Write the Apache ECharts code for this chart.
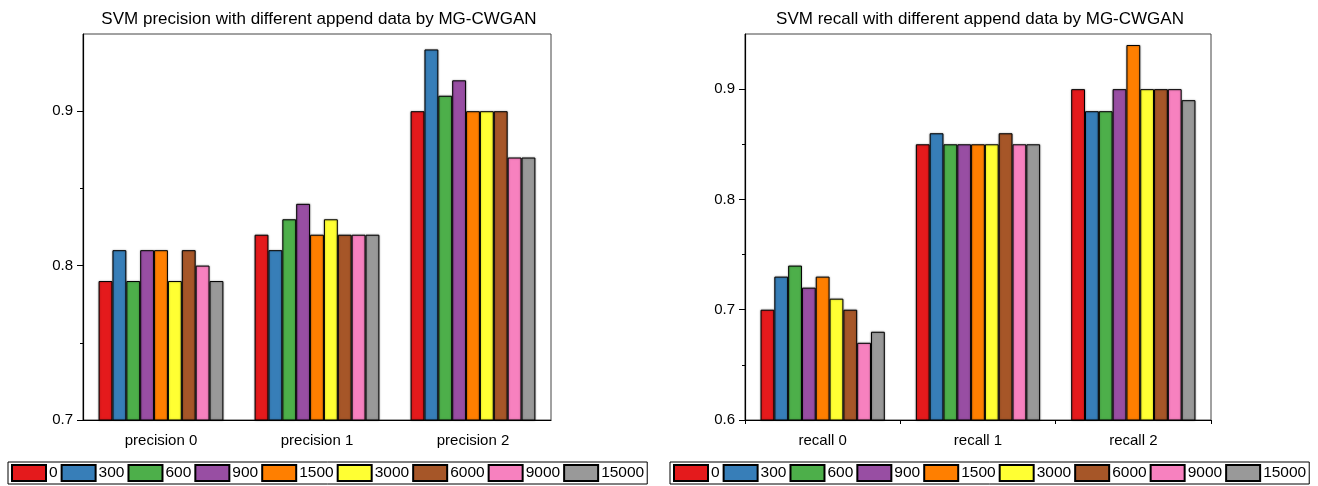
<!DOCTYPE html>
<html>
<head>
<meta charset="utf-8">
<script src="https://cdn.jsdelivr.net/npm/echarts@6/dist/echarts.min.js"></script>
<style>
html,body{margin:0;padding:0;background:#fff;}
#c{width:1318px;height:486px;}
</style>
</head>
<body>
<div id="c"></div>
<script>
const seriesNames = ['0','300','600','900','1500','3000','6000','9000','15000'];
const colors = ['#E41A1C','#377EB8','#4DAF4A','#984EA3','#FF7F00','#FFFF33','#A65628','#F781BF','#999999'];
const precisionCategories = ['precision 0','precision 1','precision 2'];
const recallCategories = ['recall 0','recall 1','recall 2'];
// values per append-size series: [cat0, cat1, cat2]
const precision0 = [0.79, 0.82, 0.90];
const precision300 = [0.81, 0.81, 0.94];
const precision600 = [0.79, 0.83, 0.91];
const precision900 = [0.81, 0.84, 0.92];
const precision1500 = [0.81, 0.82, 0.90];
const precision3000 = [0.79, 0.83, 0.90];
const precision6000 = [0.81, 0.82, 0.90];
const precision9000 = [0.80, 0.82, 0.87];
const precision15000 = [0.79, 0.82, 0.87];
const recall0 = [0.70, 0.85, 0.90];
const recall300 = [0.73, 0.86, 0.88];
const recall600 = [0.74, 0.85, 0.88];
const recall900 = [0.72, 0.85, 0.90];
const recall1500 = [0.73, 0.85, 0.94];
const recall3000 = [0.71, 0.85, 0.90];
const recall6000 = [0.70, 0.86, 0.90];
const recall9000 = [0.67, 0.85, 0.90];
const recall15000 = [0.68, 0.85, 0.89];
const precisionTicks = [0.7, 0.8, 0.9];
const precisionMinor = [0.75, 0.85];
const recallTicks = [0.6, 0.7, 0.8, 0.9];
const recallMinor = [0.65, 0.75, 0.85];

const precisionData = [precision0,precision300,precision600,precision900,precision1500,precision3000,precision6000,precision9000,precision15000];
const recallData = [recall0,recall300,recall600,recall900,recall1500,recall3000,recall6000,recall9000,recall15000];

const FONT = 'Liberation Sans, Arial, sans-serif';

function barSeries(data, xi, yi){
  return seriesNames.map((n,i)=>({
    name:n, type:'bar', xAxisIndex:xi, yAxisIndex:yi,
    data:data[i], barGap:'0%', barCategoryGap:'20%',
    itemStyle:{color:colors[i], borderColor:'#000', borderWidth:1,
      shadowColor:'rgba(0,0,0,0.35)', shadowBlur:2},
    emphasis:{disabled:true}, animation:false
  }));
}

function legend(left){
  return {
    data:seriesNames, left:left, top:462, orient:'horizontal',
    itemWidth:34, itemHeight:16, itemGap:3,
    borderColor:'#000', borderWidth:1, padding:[2,3,2,3],
    textStyle:{fontFamily:FONT, fontSize:15.5, color:'#000', padding:[0,0,0,-2]},
    icon:'rect', selectedMode:false
  };
}

function mainY(grid, min, ticks){
  return {type:'value', gridIndex:grid, min:min, max:0.95,
    axisLine:{show:true, lineStyle:{color:'#000', width:1.2}},
    axisTick:{show:true, length:6, customValues:ticks, lineStyle:{color:'#000'}},
    axisLabel:{customValues:ticks, formatter:v=>v.toFixed(1), margin:10,
      fontFamily:FONT, fontSize:15, color:'#000'},
    splitLine:{show:false}};
}
function minorY(grid, min, ticks){
  return {type:'value', gridIndex:grid, min:min, max:0.95, position:'left',
    axisLine:{show:false},
    axisTick:{show:true, length:3, customValues:ticks, lineStyle:{color:'#000'}},
    axisLabel:{show:false}, splitLine:{show:false}};
}

const option = {
  backgroundColor:'#fff',
  animation:false,
  title:[
    {text:'SVM precision with different append data by MG-CWGAN', left:314, top:6, textAlign:'center',
      textStyle:{fontFamily:FONT, fontSize:17, fontWeight:'normal', color:'#000'}},
    {text:'SVM recall with different append data by MG-CWGAN', left:975, top:6, textAlign:'center',
      textStyle:{fontFamily:FONT, fontSize:17, fontWeight:'normal', color:'#000'}}
  ],
  legend:[legend(8), legend(670)],
  grid:[
    {left:83, top:34, width:468, height:386, show:true, borderColor:'#444', borderWidth:1},
    {left:745, top:34, width:466, height:386, show:true, borderColor:'#444', borderWidth:1}
  ],
  xAxis:[
    {type:'category', gridIndex:0, data:precisionCategories,
      axisLine:{lineStyle:{color:'#000', width:1.2}},
      axisTick:{alignWithLabel:true, length:6, lineStyle:{color:'#000'}},
      axisLabel:{margin:13, fontFamily:FONT, fontSize:15, color:'#000'}},
    {type:'category', gridIndex:1, data:recallCategories,
      axisLine:{lineStyle:{color:'#000', width:1.2}},
      axisTick:{alignWithLabel:true, length:6, lineStyle:{color:'#000'}},
      axisLabel:{margin:13, fontFamily:FONT, fontSize:15, color:'#000'}},
    {type:'category', gridIndex:1, data:recallCategories, position:'bottom',
      axisLine:{show:false},
      axisTick:{show:true, length:4, lineStyle:{color:'#000'}},
      axisLabel:{show:false}}
  ],
  yAxis:[
    mainY(0, 0.7, precisionTicks),
    minorY(0, 0.7, precisionMinor),
    mainY(1, 0.6, recallTicks),
    minorY(1, 0.6, recallMinor)
  ],
  series:[...barSeries(precisionData,0,0), ...barSeries(recallData,1,2)]
};

const chart = echarts.init(document.getElementById('c'), null, {renderer:'canvas'});
chart.setOption(option);
</script>
</body>
</html>
